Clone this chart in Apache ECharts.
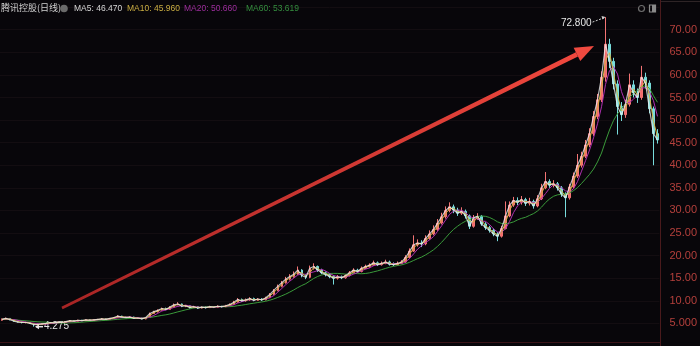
<!DOCTYPE html>
<html><head><meta charset="utf-8">
<script src="https://cdn.jsdelivr.net/npm/echarts@6/dist/echarts.min.js"></script>
<style>html,body{margin:0;padding:0;background:#08060a;overflow:hidden}#c{width:700px;height:346px}</style>
</head><body><div id="c"></div>
<script>
// ---- data (one candle ≈ one week) ----
const opens = [5.7,5.9,6.1,5.8,5.5,5.3,5.2,5.2,5.0,4.7,4.8,4.9,5.0,5.2,5.1,5.3,5.2,5.4,5.6,5.5,5.7,5.6,5.8,5.7,5.8,5.9,6.0,5.9,6.1,6.3,6.6,6.4,6.3,6.4,6.1,6.2,6.0,6.3,7.2,7.6,7.9,8.3,8.1,8.6,9.1,9.3,8.8,8.9,8.5,8.7,8.4,8.6,8.5,8.7,8.6,8.8,8.7,8.9,9.2,9.7,10.3,10.0,10.2,10.5,10.1,10.4,10.2,10.7,11.4,12.3,13.2,14.0,14.8,15.4,15.9,16.8,15.6,15.2,17.2,17.6,16.8,16.2,15.8,15.4,15.0,15.3,15.1,15.6,16.2,16.8,16.5,17.2,17.6,17.9,18.4,18.0,18.3,18.6,18.1,18.0,18.3,18.6,19.6,21.0,22.4,22.8,22.6,23.8,24.8,25.8,27.2,28.6,30.0,30.8,30.1,29.4,29.8,28.8,26.5,28.4,28.7,27.0,26.2,25.6,24.8,24.3,26.0,28.8,31.2,32.2,31.8,32.4,31.6,32.0,31.0,32.6,35.0,36.4,35.6,35.9,35.0,33.6,32.8,35.2,37.6,40.0,42.0,44.5,47.0,50.8,54.5,59.5,66.8,63.0,58.0,53.0,51.2,53.5,57.8,56.0,55.0,59.5,58.2,52.5,47.0];
const closes = [5.9,6.1,5.8,5.5,5.3,5.2,5.2,5.0,4.7,4.8,4.9,5.0,5.2,5.1,5.3,5.2,5.4,5.6,5.5,5.7,5.6,5.8,5.7,5.8,5.9,6.0,5.9,6.1,6.3,6.6,6.4,6.3,6.4,6.1,6.2,6.0,6.3,7.2,7.6,7.9,8.3,8.1,8.6,9.1,9.3,8.8,8.9,8.5,8.7,8.4,8.6,8.5,8.7,8.6,8.8,8.7,8.9,9.2,9.7,10.3,10.0,10.2,10.5,10.1,10.4,10.2,10.7,11.4,12.3,13.2,14.0,14.8,15.4,15.9,16.8,15.6,15.2,17.2,17.6,16.8,16.2,15.8,15.4,15.0,15.3,15.1,15.6,16.2,16.8,16.5,17.2,17.6,17.9,18.4,18.0,18.3,18.6,18.1,18.0,18.3,18.6,19.6,21.0,22.4,22.8,22.6,23.8,24.8,25.8,27.2,28.6,30.0,30.8,30.1,29.4,29.8,28.8,26.5,28.4,28.7,27.0,26.2,25.6,24.8,24.3,26.0,28.8,31.2,32.2,31.8,32.4,31.6,32.0,31.0,32.6,35.0,36.4,35.6,35.9,35.0,33.6,32.8,35.2,37.6,40.0,42.0,44.5,47.0,50.8,54.5,59.5,66.8,63.0,58.0,53.0,51.2,53.5,57.8,56.0,55.0,59.5,58.2,52.5,47.0,45.6];
const lows = [5.6,5.8,5.7,5.4,5.2,5.0,5.0,4.9,4.275,4.6,4.7,4.8,4.9,5.0,5.0,5.1,5.1,5.3,5.4,5.4,5.5,5.5,5.6,5.6,5.7,5.8,5.8,5.8,6.0,6.2,6.3,6.2,6.2,6.0,6.0,5.9,5.9,6.2,7.1,7.4,7.8,7.9,8.0,8.5,9.0,8.6,8.6,8.3,8.4,8.2,8.3,8.3,8.4,8.4,8.5,8.5,8.6,8.8,9.1,9.6,9.8,9.8,10.0,9.9,10.0,10.0,10.1,10.6,11.2,12.1,13.0,13.8,14.5,15.1,15.7,15.2,14.8,15.0,16.9,16.4,15.9,15.4,15.0,13.6,14.7,14.8,14.9,15.4,16.0,16.2,16.3,17.0,17.3,17.7,17.7,17.8,18.1,17.8,17.7,17.8,18.1,18.4,19.4,20.8,22.0,21.9,22.3,23.5,24.5,25.5,26.9,28.2,29.6,29.4,28.8,29.0,28.2,25.9,26.2,27.9,26.6,25.7,25.1,24.3,23.2,24.0,25.8,28.5,30.8,31.2,31.3,31.0,31.1,30.4,30.7,32.3,34.7,35.0,35.1,34.4,33.0,28.5,32.4,34.9,37.2,39.5,41.6,44.0,46.5,50.2,54.0,58.5,61.5,56.8,46.8,49.8,50.5,53.0,55.0,53.8,54.5,57.0,51.5,40.0,44.8];
const highs = [6.1,6.3,6.2,5.9,5.6,5.4,5.4,5.3,5.1,5.0,5.0,5.1,5.3,5.3,5.4,5.4,5.5,5.7,5.7,5.8,5.8,5.9,5.9,5.9,6.0,6.2,6.1,6.2,6.4,6.8,6.7,6.5,6.6,6.5,6.3,6.3,6.4,7.4,7.8,8.1,8.5,8.5,8.8,9.4,9.7,9.4,9.1,9.0,8.9,8.8,8.8,8.8,8.9,8.8,9.0,8.9,9.1,9.4,10.0,10.6,10.5,10.5,10.8,10.7,10.6,10.6,10.9,11.7,12.6,13.6,14.4,15.3,15.9,16.5,17.6,17.0,15.9,17.8,18.3,17.8,17.1,16.5,16.1,15.7,15.7,15.6,15.9,16.6,17.2,17.1,17.6,18.0,18.3,18.9,18.7,18.7,19.1,18.9,18.5,18.7,19.0,20.1,21.6,24.5,23.6,23.4,24.5,25.6,26.7,28.1,29.5,30.9,31.8,31.3,30.6,30.7,30.2,29.1,29.0,29.4,29.0,27.4,26.6,26.0,25.2,26.6,32.0,32.0,33.0,32.9,33.2,32.8,32.8,32.4,33.4,35.9,38.5,36.9,36.7,36.3,35.4,34.0,35.9,38.4,42.5,43.0,45.6,48.2,52.0,55.8,60.8,72.8,68.0,63.8,58.8,54.0,54.5,60.3,58.8,57.0,62.0,60.5,58.8,53.0,48.0];
const categories = closes.map((_, i) => 'W' + (i + 1));
const yTicks = [5,10,15,20,25,30,35,40,45,50,55,60,65,70];
const titleText = '腾讯控股(日线)';
const maNames = ['MA5','MA10','MA20','MA60'];
const maWindows = [1,2,4,12];            // weekly-candle equivalents of 5/10/20/60 days
const maLegendValues = ['46.470','45.960','50.660','53.619'];
const maColors = ['#ececec','#d2b445','#b030b0','#3a9a3a'];
const maLegendColors = ['#d6d6d6','#c9ad42','#9d2e9d','#358f3f'];

function movingAvg(src, w) {
  return src.map((_, i) => {
    const s = Math.max(0, i - w + 1); let sum = 0;
    for (let k = s; k <= i; k++) sum += src[k];
    return +(sum / (i - s + 1)).toFixed(3);
  });
}
const candleData = closes.map((c, i) => [opens[i], c, lows[i], highs[i]]);

const chart = echarts.init(document.getElementById('c'), null, {renderer: 'canvas'});
const maSeries = maNames.map((n, k) => ({
  name: n, type: 'line', data: movingAvg(closes, maWindows[k]), showSymbol: false, symbol: 'none',
  lineStyle: {width: k === 0 ? 1.2 : 1, color: maColors[k], opacity: k === 0 ? 0.8 : 1}, z: 3 + (3 - k), silent: true
}));
chart.setOption({
  backgroundColor: '#08060a',
  animation: false,
  grid: {left: 0, right: 40, top: 7.15, height: 342.7},
  xAxis: {type: 'category', data: categories, boundaryGap: true,
    axisLine: {show: false}, axisTick: {show: false}, axisLabel: {show: false}, splitLine: {show: false}},
  yAxis: {type: 'value', position: 'right', min: 0, max: 75, interval: 5,
    axisLine: {show: false}, axisTick: {show: false},
    axisLabel: {margin: 10, color: '#b5403c', fontSize: 11, fontFamily: 'Liberation Sans',
      formatter: v => yTicks.includes(v) ? (v === 5 ? '5.000' : v.toFixed(2)) : ''},
    splitLine: {show: true, lineStyle: {color: '#130d11', width: 1}}},
  series: [{
    type: 'candlestick', data: candleData, barMaxWidth: 2.2, z: 2,
    itemStyle: {color: '#f26a6a', color0: '#78dcdc', borderColor: '#f47474', borderColor0: '#78dcdc', borderWidth: 1}
  }].concat(maSeries)
});

// annotations placed from the data
let hiIdx = 0, loIdx = 0;
highs.forEach((h, i) => { if (h > highs[hiIdx]) hiIdx = i; });
lows.forEach((l, i) => { if (l < lows[loIdx]) loIdx = i; });
const hp = chart.convertToPixel({gridIndex: 0}, [hiIdx, highs[hiIdx]]);
const lp = chart.convertToPixel({gridIndex: 0}, [loIdx, lows[loIdx]]);

const g = [];
// frame lines
g.push({type: 'line', shape: {x1: 660.5, y1: 0, x2: 660.5, y2: 346}, style: {stroke: '#4a1a1c', lineWidth: 1}, silent: true});
g.push({type: 'line', shape: {x1: 0, y1: 342.5, x2: 660, y2: 342.5}, style: {stroke: '#3a1418', lineWidth: 1}, silent: true});
g.push({type: 'line', shape: {x1: 661, y1: 1.5, x2: 700, y2: 1.5}, style: {stroke: '#2e2426', lineWidth: 1}, silent: true});
// title legend
g.push({type: 'text', left: 1, top: 3, style: {text: titleText, fill: '#d0d0d0', fontSize: 9, fontFamily: 'Noto Sans CJK SC'}});
g.push({type: 'circle', shape: {cx: 64, cy: 8.5, r: 3.8}, style: {fill: '#6a6a6a'}});
const legX = [74, 127, 184, 246];
maNames.forEach((n, k) => {
  g.push({type: 'text', left: legX[k], top: 4, style: {text: n + ': ' + maLegendValues[k], fill: maLegendColors[k], fontSize: 8.5, fontFamily: 'Liberation Sans'}});
});
// top-right icons
g.push({type: 'circle', shape: {cx: 641.5, cy: 8.5, r: 3}, style: {fill: 'none', stroke: '#6e6e6e', lineWidth: 1.2}});
g.push({type: 'rect', shape: {x: 649.5, y: 5, width: 6, height: 7}, style: {fill: 'none', stroke: '#8a8a8a', lineWidth: 1.2}});
g.push({type: 'rect', shape: {x: 652, y: 5, width: 3.5, height: 7}, style: {fill: '#8a8a8a'}});
// max annotation
g.push({type: 'text', x: hp[0] - 14, y: hp[1] + 6, style: {text: highs[hiIdx].toFixed(3), fill: '#e6e6e6', fontSize: 10, fontFamily: 'Liberation Sans', align: 'right', verticalAlign: 'middle'}});
g.push({type: 'line', shape: {x1: hp[0] - 13, y1: hp[1] + 5, x2: hp[0] - 1, y2: hp[1] + 0.5}, style: {stroke: '#cfcfcf', lineWidth: 1, lineDash: [2, 1.5]}});
g.push({type: 'polygon', shape: {points: [[hp[0], hp[1]], [hp[0] - 4, hp[1] - 1], [hp[0] - 3, hp[1] + 2.5]]}, style: {fill: '#cfcfcf'}});
// min annotation
g.push({type: 'line', shape: {x1: lp[0] + 2, y1: lp[1], x2: lp[0] + 9, y2: lp[1]}, style: {stroke: '#e6e6e6', lineWidth: 1.5}});
g.push({type: 'polygon', shape: {points: [[lp[0] + 1, lp[1]], [lp[0] + 5, lp[1] - 2.5], [lp[0] + 5, lp[1] + 2.5]]}, style: {fill: '#e6e6e6'}});
g.push({type: 'text', x: lp[0] + 10, y: lp[1], style: {text: lows[loIdx].toFixed(3), fill: '#e6e6e6', fontSize: 10, fontFamily: 'Liberation Sans', align: 'left', verticalAlign: 'middle'}});
// big red arrow (annotation)
const tail = [62, 308], tip = [594, 46];
const dx = tip[0] - tail[0], dy = tip[1] - tail[1], len = Math.hypot(dx, dy);
const ux = dx / len, uy = dy / len, nx = -uy, ny = ux;
const headL = 19, headW = 7.5;
const bx = tip[0] - headL * ux, by = tip[1] - headL * uy;
const grad = new echarts.graphic.LinearGradient(0, 0, 1, 0, [{offset: 0, color: '#a82424'}, {offset: 1, color: '#f0483e'}]);
g.push({type: 'polygon', shape: {points: [
  [tail[0] + nx * 1.3, tail[1] + ny * 1.3], [bx + nx * 2.4, by + ny * 2.4],
  [bx - nx * 2.4, by - ny * 2.4], [tail[0] - nx * 1.3, tail[1] - ny * 1.3]]},
  style: {fill: grad}, z: 10});
g.push({type: 'polygon', shape: {points: [[tip[0], tip[1]], [bx + nx * headW, by + ny * headW], [bx - nx * headW, by - ny * headW]]},
  style: {fill: '#f04a40'}, z: 10});
chart.setOption({graphic: g});
</script>
</body></html>
